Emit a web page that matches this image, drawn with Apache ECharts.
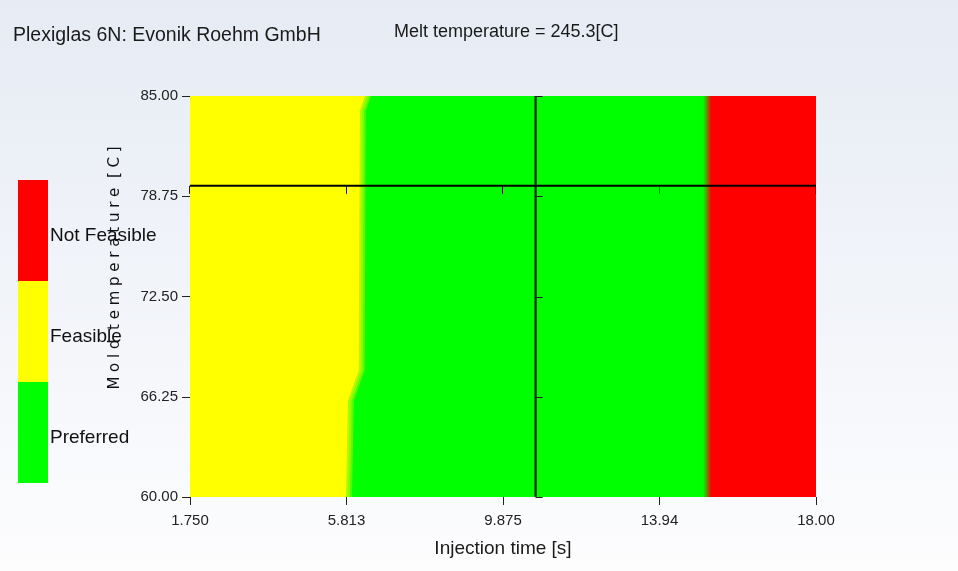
<!DOCTYPE html>
<html>
<head>
<meta charset="utf-8">
<title>Plexiglas 6N molding window</title>
<script src="https://cdn.jsdelivr.net/npm/echarts@6/dist/echarts.min.js"></script>
<style>
  html, body { margin: 0; padding: 0; }
  #chart { width: 958px; height: 571px; }
</style>
</head>
<body>
<div id="chart"></div>
<script>
// material / process info
const materialName = 'Plexiglas 6N: Evonik Roehm GmbH';
const meltTemperature = 245.3;

// axis ticks and their labels
const injectionTicks = [1.75, 5.8125, 9.875, 13.9375, 18.0];
const injectionLabels = ['1.750', '5.813', '9.875', '13.94', '18.00'];
const moldTicks = [60, 66.25, 72.5, 78.75, 85];
const moldLabels = ['60.00', '66.25', '72.50', '78.75', '85.00'];

// zones, legend order top to bottom
const zoneNames = ['Not Feasible', 'Feasible', 'Preferred'];
const zoneColors = ['#ff0000', '#ffff00', '#00ff00'];

// feasible / preferred boundary (mold temp -> injection time)
const feasibleEdgeMold = [85, 84.1, 67.9, 66.0, 60];
const feasibleEdgeTime = [6.34, 6.21, 6.18, 5.90, 5.85];
// preferred / not feasible boundary, straight
const notFeasibleEdgeTime = 15.17;

// cursor (crosshair) position
const cursorTime = 10.72;
const cursorMold = 79.4;

const RED = zoneColors[0], YELLOW = zoneColors[1], GREEN = zoneColors[2];
const xMin = injectionTicks[0], xMax = injectionTicks[injectionTicks.length - 1];
const yMin = moldTicks[0], yMax = moldTicks[moldTicks.length - 1];

const chart = echarts.init(document.getElementById('chart'));

// colored zones
function renderZones(params, api) {
  const tl = api.coord([xMin, yMax]);
  const br = api.coord([xMax, yMin]);
  const w = br[0] - tl[0];
  const edge = api.coord([notFeasibleEdgeTime, yMin])[0];
  const f = (edge - tl[0]) / w;
  const d = 4 / w;
  const children = [{
    type: 'rect',
    shape: { x: tl[0], y: tl[1], width: w, height: br[1] - tl[1] },
    style: {
      fill: new echarts.graphic.LinearGradient(0, 0, 1, 0, [
        { offset: 0, color: GREEN },
        { offset: f - d, color: GREEN },
        { offset: f + d, color: RED },
        { offset: 1, color: RED }
      ])
    }
  }];
  const pts = [api.coord([xMin, yMax])];
  feasibleEdgeMold.forEach((m, i) => pts.push(api.coord([feasibleEdgeTime[i], m])));
  pts.push(api.coord([xMin, yMin]));
  // soft edge: a few shifted, faint copies of the feasible zone
  [4, 2, 0, -2].forEach((dx, k) => {
    children.push({
      type: 'polygon',
      shape: { points: pts.map(p => [p[0] + dx, p[1]]) },
      style: { fill: YELLOW, opacity: k === 3 ? 1 : 0.3 }
    });
  });
  return { type: 'group', children: children };
}

// crosshair with its own small ticks
function renderCursor(params, api) {
  const lineStyle = { stroke: '#000', lineWidth: 2 };
  const tickStyle = { stroke: '#222', lineWidth: 1 };
  const top = api.coord([cursorTime, yMax]);
  const bottom = api.coord([cursorTime, yMin]);
  const left = api.coord([xMin, cursorMold]);
  const right = api.coord([xMax, cursorMold]);
  const children = [
    { type: 'line', shape: { x1: top[0], y1: top[1], x2: bottom[0], y2: bottom[1] }, style: lineStyle },
    { type: 'line', shape: { x1: left[0], y1: left[1], x2: right[0], y2: right[1] }, style: lineStyle }
  ];
  moldTicks.forEach(m => {
    const p = api.coord([cursorTime, m]);
    const y = Math.round(p[1]) + 0.5;
    children.push({ type: 'line', shape: { x1: p[0], y1: y, x2: p[0] + 7, y2: y }, style: tickStyle });
  });
  injectionTicks.forEach(t => {
    const p = api.coord([t, cursorMold]);
    const x = Math.round(p[0]) - 0.5;
    children.push({ type: 'line', shape: { x1: x, y1: p[1], x2: x, y2: p[1] + 8 }, style: tickStyle });
  });
  return { type: 'group', children: children };
}

const legendGraphics = [];
zoneNames.forEach((name, i) => {
  legendGraphics.push({
    type: 'rect', left: 18, top: 180 + i * 101,
    shape: { width: 30, height: 101 },
    style: { fill: zoneColors[i] }
  });
  legendGraphics.push({
    type: 'text', left: 50, top: 226 + i * 101, z: 10,
    style: { text: name, fill: '#111', font: '19px "Liberation Sans", Arial, sans-serif' }
  });
});

const option = {
  animation: false,
  title: [
    {
      text: materialName, left: 8, top: 21,
      textStyle: { fontFamily: 'Liberation Sans', fontSize: 19.5, fontWeight: 'normal', color: '#1a1a1a' }
    },
    {
      text: 'Melt temperature = ' + meltTemperature + '[C]', left: 389, top: 18,
      textStyle: { fontFamily: 'Liberation Sans', fontSize: 18, fontWeight: 'normal', color: '#1a1a1a' }
    }
  ],
  graphic: [
    {
      type: 'rect', z: -100, left: 0, top: 0,
      shape: { width: 958, height: 571 },
      style: {
        fill: new echarts.graphic.LinearGradient(0, 0, 0, 1, [
          { offset: 0, color: '#e6ebf4' },
          { offset: 1, color: '#fdfdfe' }
        ])
      }
    },
    ...legendGraphics,
    {
      type: 'text', x: 115, y: 268, rotation: Math.PI / 2, z: 5,
      style: {
        text: 'M o l d  t e m p e r a t u r e  [ C ]',
        fill: '#111', align: 'center', verticalAlign: 'middle',
        font: '15px "DejaVu Sans", sans-serif'
      }
    }
  ],
  grid: { left: 190, right: 142, top: 96, bottom: 74 },
  xAxis: {
    type: 'value', min: xMin, max: xMax,
    name: 'Injection time [s]', nameLocation: 'middle', nameGap: 42,
    nameTextStyle: { fontFamily: 'Liberation Sans', fontSize: 19, color: '#1a1a1a' },
    axisLine: { show: false },
    axisTick: { show: true, length: 8, customValues: injectionTicks, lineStyle: { color: '#222' } },
    axisLabel: {
      customValues: injectionTicks, margin: 16,
      fontFamily: 'Liberation Sans', fontSize: 15, color: '#222',
      formatter: v => injectionLabels[injectionTicks.indexOf(v)] ?? v.toFixed(3)
    },
    splitLine: { show: false }
  },
  yAxis: {
    type: 'value', min: yMin, max: yMax,
    axisLine: { show: false },
    axisTick: { show: true, length: 8, customValues: moldTicks, lineStyle: { color: '#222' } },
    axisLabel: {
      customValues: moldTicks, margin: 12,
      fontFamily: 'Liberation Sans', fontSize: 15, color: '#222',
      formatter: v => moldLabels[moldTicks.indexOf(v)] ?? v.toFixed(2)
    },
    splitLine: { show: false }
  },
  series: [
    {
      type: 'custom', name: 'zones', clip: true, z: 1,
      data: [[xMin, yMin]],
      renderItem: renderZones
    },
    {
      type: 'custom', name: 'cursor', clip: false, z: 3,
      data: [[cursorTime, cursorMold]],
      renderItem: renderCursor
    }
  ]
};

chart.setOption(option);
</script>
</body>
</html>
